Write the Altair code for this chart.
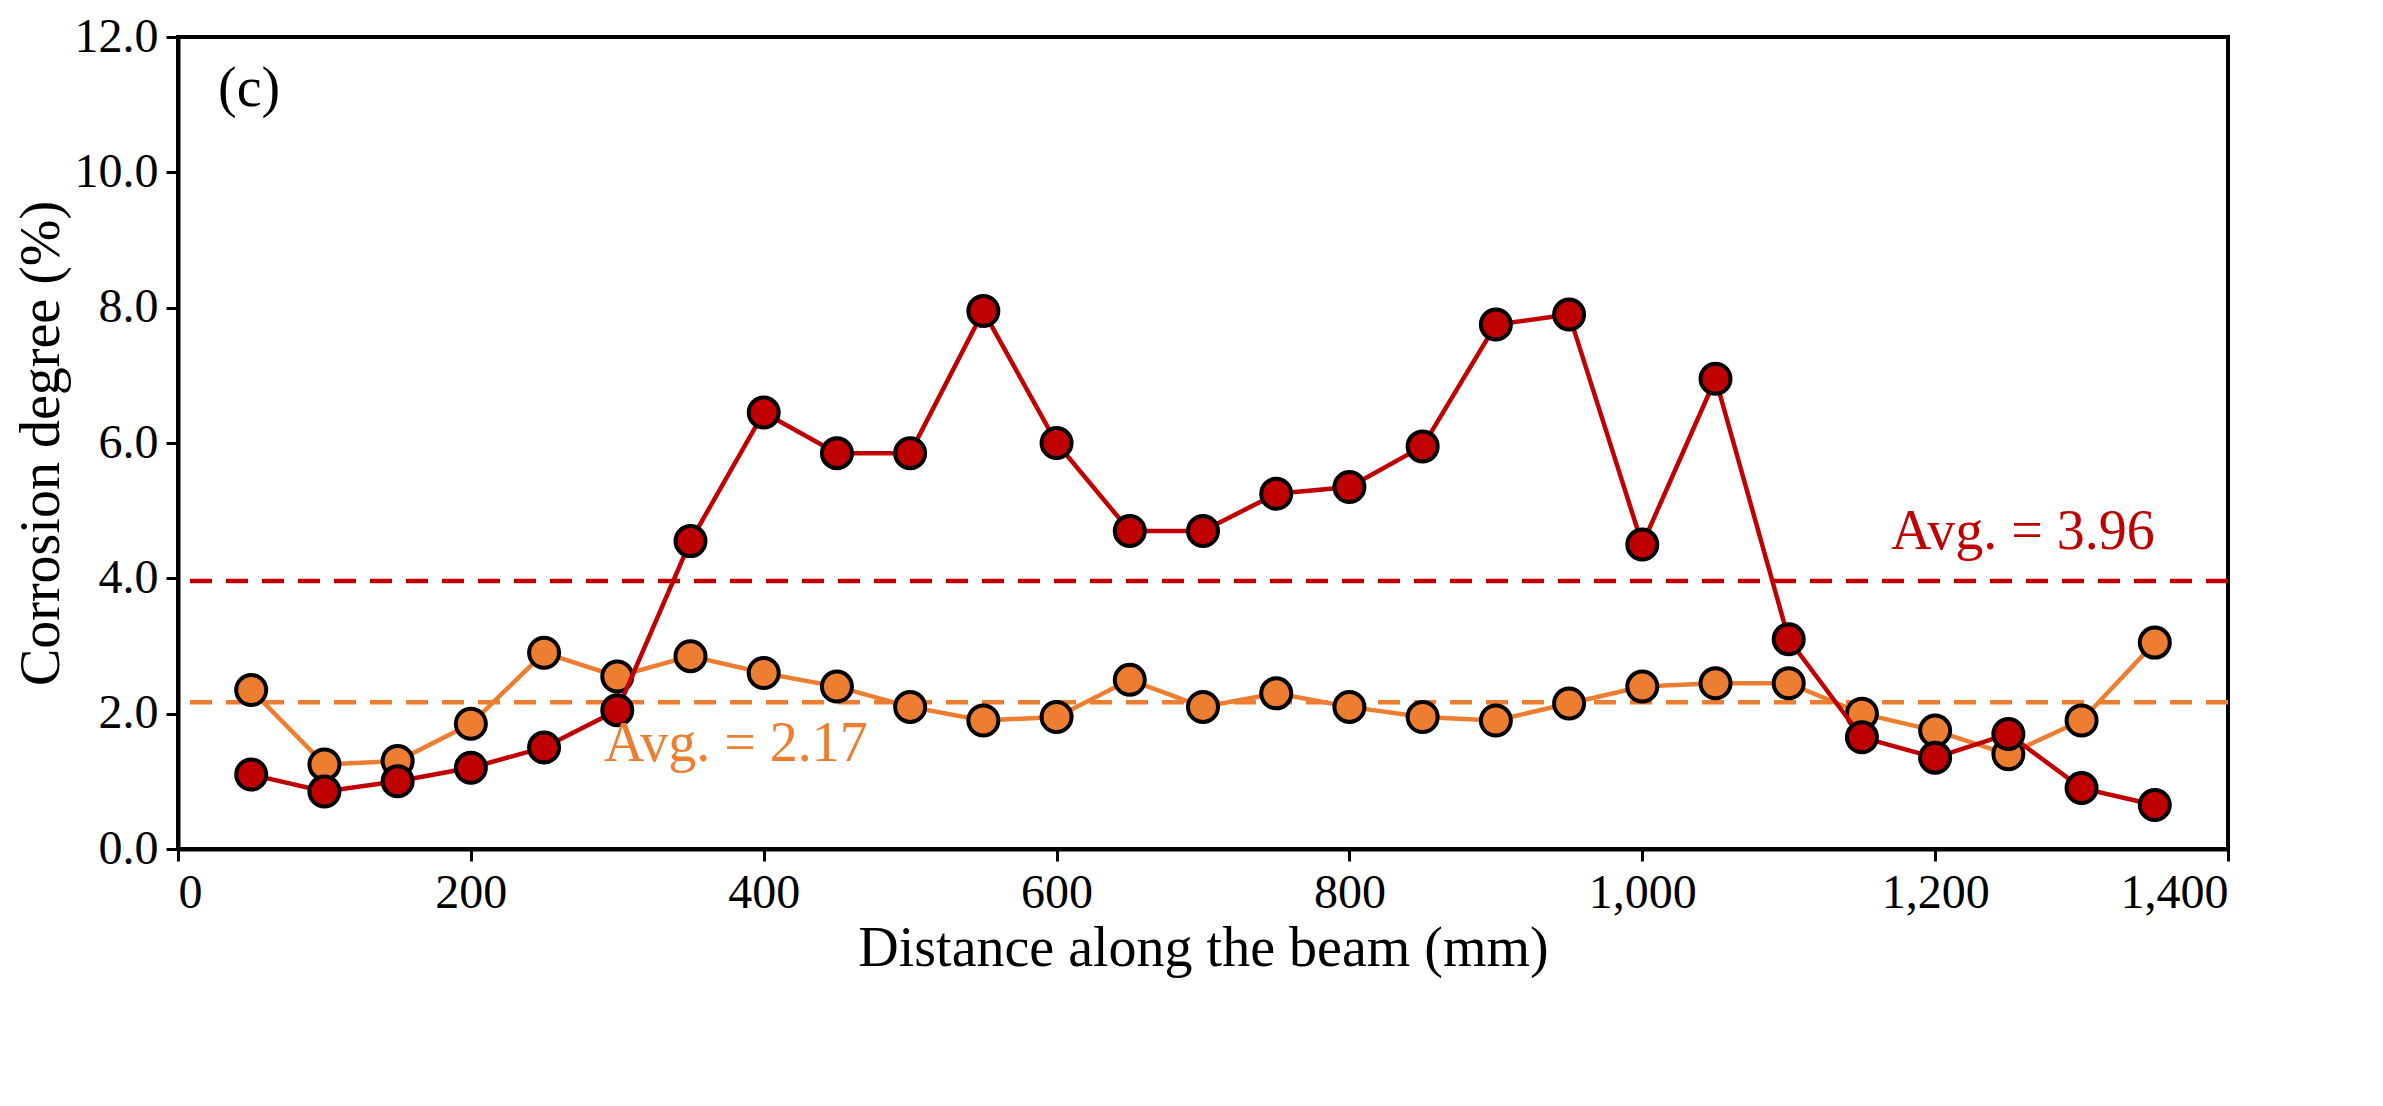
import altair as alt
import pandas as pd

distance = [50, 100, 150, 200, 250, 300, 350, 400, 450, 500, 550, 600, 650, 700,
            750, 800, 850, 900, 950, 1000, 1050, 1100, 1150, 1200, 1250, 1300, 1350]
longitudinal = [1.1, 0.85, 1.0, 1.2, 1.5, 2.05, 4.55, 6.45, 5.85, 5.85, 7.95, 6.0, 4.7, 4.7,
                5.25, 5.35, 5.95, 7.75, 7.9, 4.5, 6.95, 3.1, 1.65, 1.35, 1.7, 0.9, 0.65]
vertical = [2.35, 1.25, 1.3, 1.85, 2.9, 2.55, 2.85, 2.6, 2.4, 2.1, 1.9, 1.95, 2.5, 2.1,
            2.3, 2.1, 1.95, 1.9, 2.15, 2.4, 2.45, 2.45, 2.0, 1.75, 1.4, 1.9, 3.05]
series = ["Longitudinal tensile reinforcements", "Vertical reinforcements"]
colors = ["#C00000", "#ED7D31"]
averages = [3.96, 2.17]

FONT = "Liberation Serif"

df = pd.concat([
    pd.DataFrame({"d": distance, "v": vertical, "s": series[1]}),
    pd.DataFrame({"d": distance, "v": longitudinal, "s": series[0]}),
])
avg = pd.DataFrame({"s": series, "y": averages})

x = alt.X("d:Q", title="Distance along the beam (mm)",
          scale=alt.Scale(domain=[0, 1400], nice=False),
          axis=alt.Axis(values=list(range(0, 1401, 200))))
y = alt.Y("v:Q", title="Corrosion degree (%)",
          scale=alt.Scale(domain=[0, 12], nice=False),
          axis=alt.Axis(values=list(range(0, 13, 2))))
color = alt.Color("s:N", scale=alt.Scale(domain=series, range=colors),
                  legend=alt.Legend(title=None, orient="none", legendX=220, legendY=20,
                                    symbolType="circle", symbolSize=900,
                                    symbolStrokeColor="black", symbolStrokeWidth=4,
                                    symbolOpacity=1,
                                    labelFont=FONT, labelFontSize=56, labelColor="black",
                                    rowPadding=36, labelLimit=2000, labelOffset=20))

rules = alt.Chart(avg).mark_rule(strokeDash=[22, 14], strokeWidth=4.5).encode(
    y="y:Q", color=alt.Color("s:N", scale=alt.Scale(domain=series, range=colors), legend=None))

series_layers = []
for name in [series[1], series[0]]:
    sub = df[df["s"] == name]
    c = colors[series.index(name)]
    series_layers.append(alt.Chart(sub).mark_line(strokeWidth=4.5, color=c).encode(x=x, y=y))
    series_layers.append(alt.Chart(sub).mark_point(
        filled=True, size=900, stroke="black", strokeWidth=4, opacity=1
    ).encode(x=x, y=y, color=color))

labels = pd.DataFrame({"d": [1350, 45], "v": [4.25, 1.95],
                       "t": ["Avg. = 3.96", "Avg. = 2.17"]})
txt_r = alt.Chart(labels.iloc[[0]]).mark_text(
    font=FONT, fontSize=56, color=colors[0], align="right", baseline="bottom"
).encode(x="d:Q", y="v:Q", text="t:N")
txt_o = alt.Chart(labels.iloc[[1]]).mark_text(
    font=FONT, fontSize=56, color=colors[1], align="left", baseline="top", dx=360
).encode(x="d:Q", y="v:Q", text="t:N")
tag = alt.Chart(pd.DataFrame({"d": [0], "v": [12], "t": ["(c)"]})).mark_text(
    font=FONT, fontSize=56, color="black", align="left", baseline="top", dx=40, dy=25
).encode(x="d:Q", y="v:Q", text="t:N")

chart = alt.layer(rules, *series_layers, txt_r, txt_o, tag).properties(
    width=2050, height=812
).configure_view(stroke="black", strokeWidth=4).configure_axis(
    labelFont=FONT, titleFont=FONT, labelFontSize=48, titleFontSize=56,
    labelColor="black", titleColor="black", titleFontWeight="normal",
    domainColor="black", domainWidth=4, tickColor="black", tickWidth=3, tickSize=12,
    grid=False, labelPadding=8
)

chart.save("out.html", embed_options={"renderer": "svg", "actions": False})
